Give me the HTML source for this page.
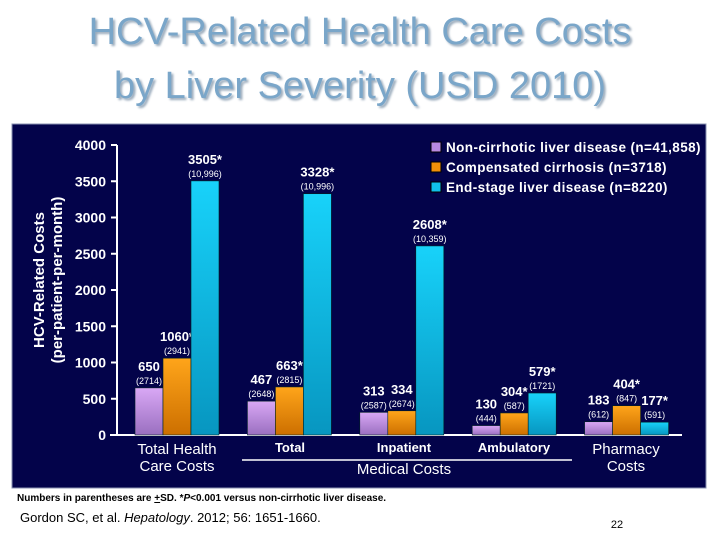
<!DOCTYPE html>
<html><head><meta charset="utf-8"><style>
body{margin:0;width:720px;height:540px;background:#fff;position:relative;overflow:hidden;font-family:"Liberation Sans",sans-serif}
.t{position:absolute;left:0;width:720px;text-align:center;font-size:38px;color:#7aa6c9;text-shadow:2px 2px 2px #9ab;line-height:1}
svg{position:absolute;left:0;top:0}
</style></head><body>
<div class="t" style="top:13px">HCV-Related Health Care Costs</div>
<div class="t" style="top:67px">by Liver Severity (USD 2010)</div>
<svg width="720" height="540" id="c">
<defs>
<linearGradient id="gp" x1="0" y1="0" x2="0" y2="1"><stop offset="0" stop-color="#d9a8f5"/><stop offset="1" stop-color="#9a6fc0"/></linearGradient>
<linearGradient id="go" x1="0" y1="0" x2="0" y2="1"><stop offset="0" stop-color="#ffa51a"/><stop offset="1" stop-color="#cc6f00"/></linearGradient>
<linearGradient id="gc" x1="0" y1="0" x2="0" y2="1"><stop offset="0" stop-color="#18d2fa"/><stop offset="1" stop-color="#0796c0"/></linearGradient>
</defs>
<rect x="12" y="124" width="694" height="364" fill="#03034a" stroke="#8890b0"/>
<g id="g"></g>
<text x="17" y="501" font-size="10" font-weight="bold" fill="#000">Numbers in parentheses are <tspan text-decoration="underline">+</tspan>SD. *<tspan font-style="italic">P</tspan>&lt;0.001 versus non-cirrhotic liver disease.</text>
<text x="20" y="522" font-size="13" fill="#000">Gordon SC, et al. <tspan font-style="italic">Hepatology</tspan>. 2012; 56: 1651-1660.</text>
<text x="617" y="528" font-size="11" fill="#000" text-anchor="middle">22</text>
</svg>
<script>
const categories=["Total Health Care Costs","Total","Inpatient","Ambulatory","Pharmacy Costs"];
const nonCirrhotic=[650,467,313,130,183];
const compensated=[1060,663,334,304,404];
const endStage=[3505,3328,2608,579,177];
const labNC=["650","467","313","130","183"];
const labCC=["1060*","663*","334","304*","404*"];
const labES=["3505*","3328*","2608*","579*","177*"];
const sdNC=["(2714)","(2648)","(2587)","(444)","(612)"];
const sdCC=["(2941)","(2815)","(2674)","(587)","(847)"];
const sdES=["(10,996)","(10,996)","(10,359)","(1721)","(591)"];
const yTicks=[0,500,1000,1500,2000,2500,3000,3500,4000];
const legend=["Non-cirrhotic liver disease (n=41,858)","Compensated cirrhosis (n=3718)","End-stage liver disease (n=8220)"];
const NS="http://www.w3.org/2000/svg",g=document.getElementById('g');
const y=v=>435-v*290/4000, gx=i=>135+i*112.4, BW=28;
function el(t,a,txt){const e=document.createElementNS(NS,t);for(const k in a)e.setAttribute(k,a[k]);if(txt!=null)e.textContent=txt;g.appendChild(e);return e;}
let ax=el('line',{x1:117,y1:y(4000),x2:117,y2:y(0),stroke:'#fff','stroke-width':2});


let bl=el('line',{x1:110,y1:y(0),x2:682,y2:y(0),stroke:'#fff','stroke-width':2});


yTicks.forEach(v=>{
 let tk=el('line',{x1:111,y1:y(v),x2:117,y2:y(v),stroke:'#fff','stroke-width':2});
 
 
 let t=el('text',{x:106,y:y(v)+5,'text-anchor':'end','font-size':14,'font-weight':'bold',fill:'#fff'},String(v));
 
 
});
let yt=el('text',{transform:'translate(44,280) rotate(-90)','text-anchor':'middle','font-size':15,'font-weight':'bold',fill:'#fff'});


yt.innerHTML='<tspan x="0" dy="0">HCV-Related Costs</tspan><tspan x="0" dy="18">(per-patient-per-month)</tspan>';
const series=[[nonCirrhotic,'url(#gp)',labNC,sdNC,'bar-non-cirrhotic'],[compensated,'url(#go)',labCC,sdCC,'bar-compensated'],[endStage,'url(#gc)',labES,sdES,'bar-end-stage']];
categories.forEach((c,i)=>{
 series.forEach((s,j)=>{
  const x=gx(i)+j*BW,v=s[0][i];
  let r=el('rect',{x:x,y:y(v),width:BW,height:y(0)-y(v),fill:s[1],stroke:'#022','stroke-width':0.6});
  
  
  const cx=x+BW/2;
  let lv=el('text',{x:cx,y:y(v)-17,'text-anchor':'middle','font-size':13,'font-weight':'bold',fill:'#fff'},s[2][i]);
  
  
  let ls=el('text',{x:cx,y:y(v)-4,'text-anchor':'middle','font-size':9,fill:'#fff'},s[3][i]);
  
  
 });
});
const catPos=[[177,454,["Total Health","Care Costs"],15],[290,452,["Total"],13],[404,452,["Inpatient"],13],[514,452,["Ambulatory"],13],[626,454,["Pharmacy","Costs"],15]];
catPos.forEach((p,i)=>{
 let t=el('text',{x:p[0],y:p[1],'text-anchor':'middle','font-size':p[3],'font-weight':i==0||i==4?'normal':'bold',fill:'#fff'});
 
 
 t.innerHTML=p[2].map((s,k)=>`<tspan x="${p[0]}" dy="${k?17:0}">${s}</tspan>`).join('');
});
let ul=el('line',{x1:242,y1:460,x2:572,y2:460,stroke:'#fff','stroke-width':1.5});


let mc=el('text',{x:404,y:474,'text-anchor':'middle','font-size':15,fill:'#fff'},'Medical Costs');


const lc=['#b88ae0','#f0900a','#10c0ea'];
legend.forEach((L,k)=>{
 let sw=el('rect',{x:431,y:142+k*20,width:10,height:10,fill:lc[k],stroke:'#000'});
 
 
 let t=el('text',{x:446,y:152+k*20,'font-size':13.5,'font-weight':'bold',fill:'#fff','letter-spacing':'0.4'},L);
 
 
});
</script>
</body></html>
